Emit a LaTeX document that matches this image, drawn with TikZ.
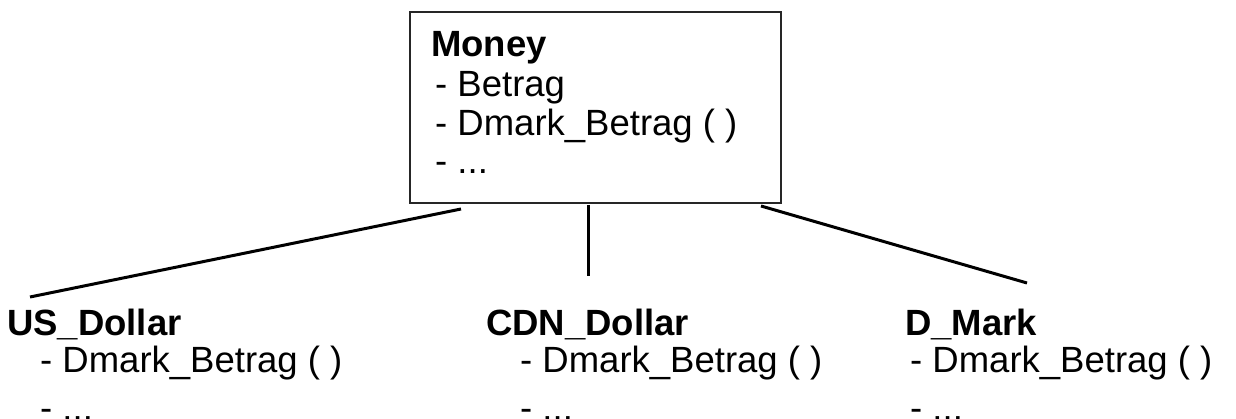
\documentclass[tikz,border=0pt]{standalone}
\usepackage{fontspec}
\setmainfont{Liberation Sans}
\begin{document}
\begin{tikzpicture}[x=1pt,y=-1pt,
  txt/.style={anchor=base west,inner sep=0pt,font=\fontsize{36.5}{44}\selectfont},
  ttl/.style={txt,font=\fontsize{36.5}{44}\selectfont\bfseries},
  link/.style={line width=3pt,black},
  classbox/.style={draw=black!85,line width=1.7pt,minimum width=371pt,minimum height=191pt,inner sep=0pt}]
\useasboundingbox (0,0) rectangle (1236,419);
\clip (0,0) rectangle (1236,419);
% top class
\node[classbox] (money) at (595.5,107.5) {};
\node[ttl] (money-t) at (431,57) {Money};
\node[txt] (money-a) at (435,97) {- Betrag};
\node[txt] (money-b) at (435,135.5) {- Dmark\_Betrag ( )};
\node[txt] (money-c) at (435,174) {- ...};
% subclasses
\node[ttl] (us-t) at (7,335) {US\_Dollar};
\node[txt] (us-a) at (40,372) {- Dmark\_Betrag ( )};
\node[txt] (us-b) at (40,420) {- ...};
\node[ttl] (cdn-t) at (486,335) {CDN\_Dollar};
\node[txt] (cdn-a) at (520,372) {- Dmark\_Betrag ( )};
\node[txt] (cdn-b) at (520,420) {- ...};
\node[ttl] (dm-t) at (905,335) {D\_Mark};
\node[txt] (dm-a) at (910,372) {- Dmark\_Betrag ( )};
\node[txt] (dm-b) at (910,420) {- ...};
% connector end points
\coordinate (mL) at (461,209);
\coordinate (mC) at (588,205);
\coordinate (mR) at (761,206);
\coordinate (usE) at (30,297);
\coordinate (cdnE) at (588,276);
\coordinate (dmE) at (1027,283);
\draw[link] (mL) -- (usE);
\draw[link] (mC) -- (cdnE);
\draw[link] (mR) -- (dmE);
\end{tikzpicture}
\end{document}
